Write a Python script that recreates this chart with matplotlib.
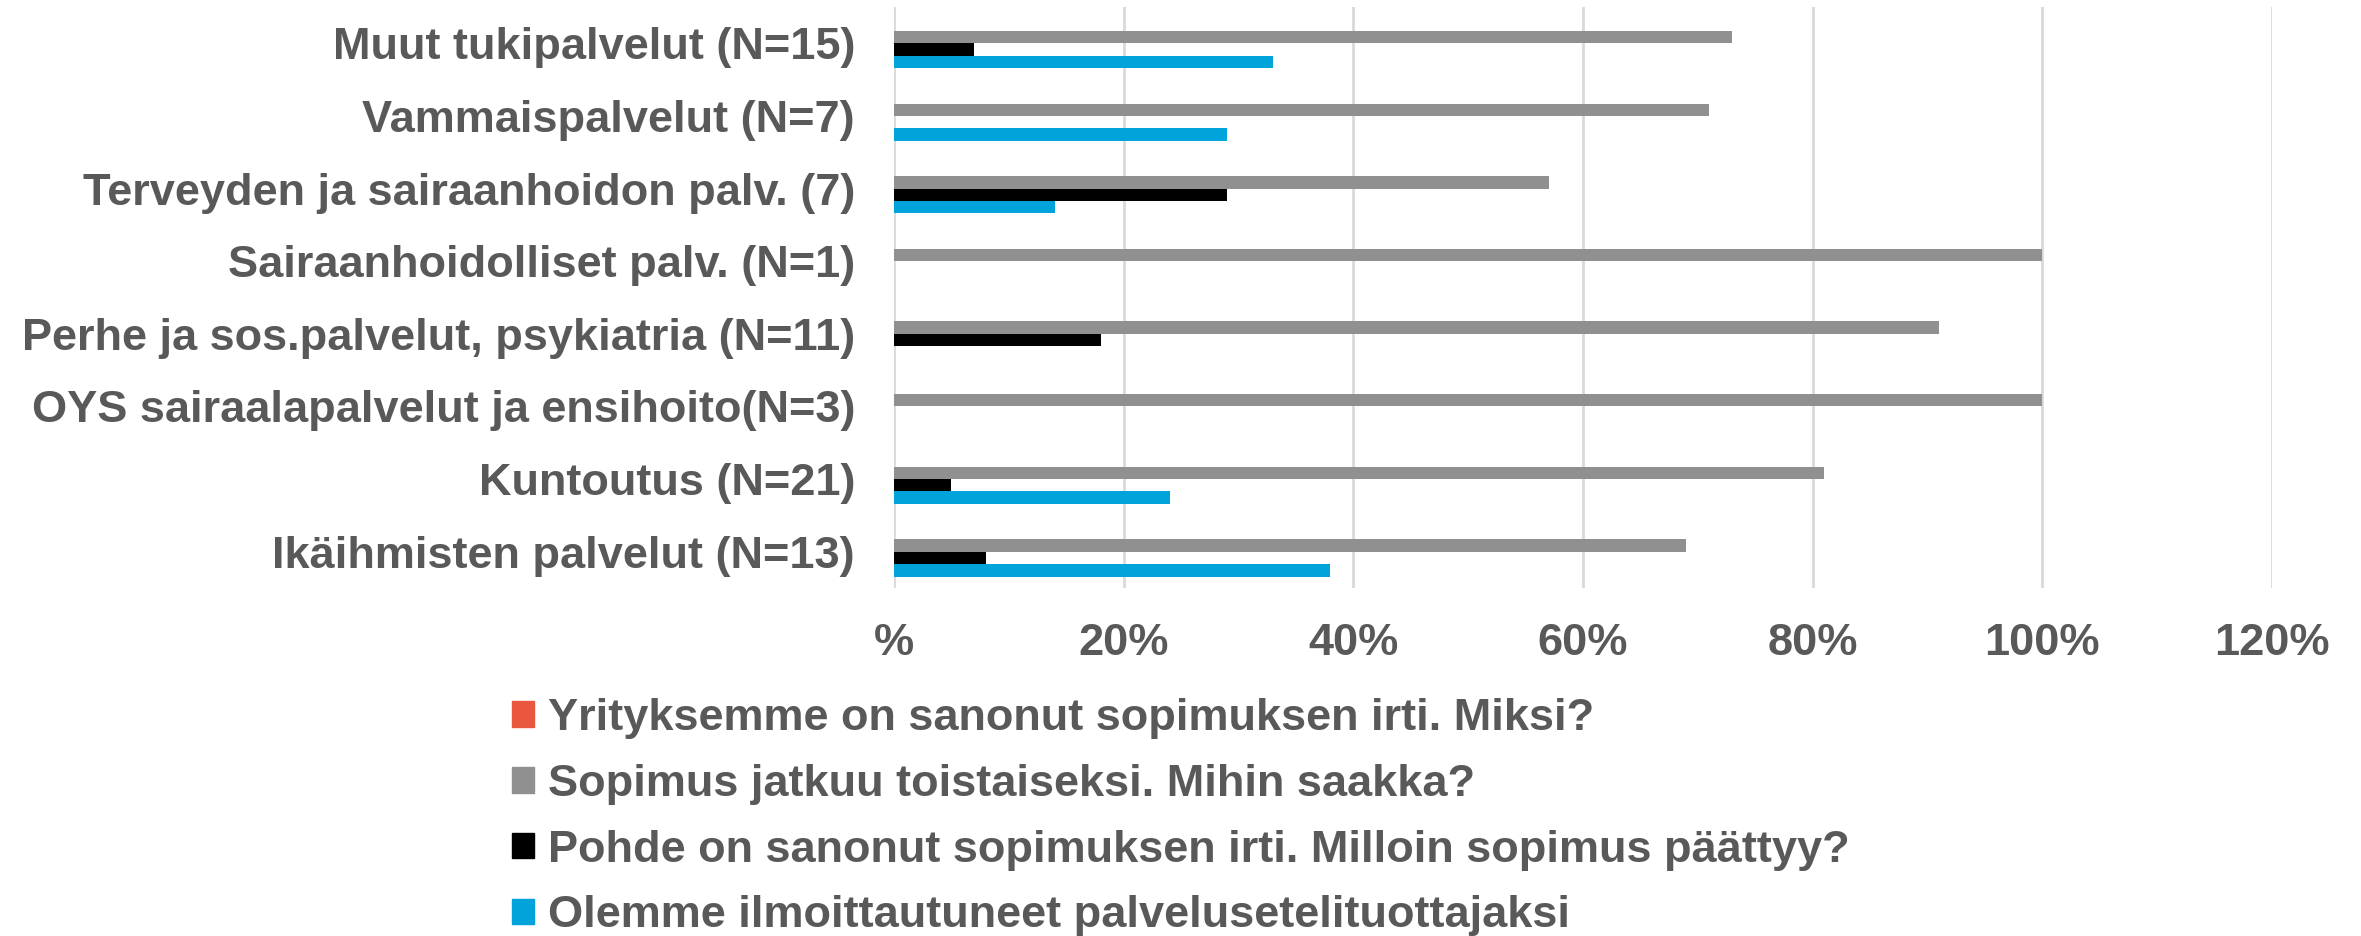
import matplotlib
matplotlib.use('Agg')
import matplotlib.pyplot as plt
from matplotlib.patches import Patch
import numpy as np

plt.rcParams['font.family'] = ['Liberation Sans', 'DejaVu Sans']
plt.rcParams['font.weight'] = 'bold'

# kategoriat alhaalta ylös
kategoriat = [
    'Ikäihmisten palvelut (N=13)',
    'Kuntoutus (N=21)',
    'OYS sairaalapalvelut ja ensihoito(N=3)',
    'Perhe ja sos.palvelut, psykiatria (N=11)',
    'Sairaanhoidolliset palv. (N=1)',
    'Terveyden ja sairaanhoidon palv. (7)',
    'Vammaispalvelut (N=7)',
    'Muut tukipalvelut (N=15)',
]

# prosentit
yritys_irti = [0, 0, 0, 0, 0, 0, 0, 0]
jatkuu = [69, 81, 100, 91, 100, 57, 71, 73]
pohde_irti = [8, 5, 0, 18, 0, 29, 0, 7]
palveluseteli = [38, 24, 0, 0, 0, 14, 29, 33]

sarjat = [
    'Yrityksemme on sanonut sopimuksen irti. Miksi?',
    'Sopimus jatkuu toistaiseksi. Mihin saakka?',
    'Pohde on sanonut sopimuksen irti. Milloin sopimus päättyy?',
    'Olemme ilmoittautuneet palvelusetelituottajaksi',
]
x_ticks = [0, 20, 40, 60, 80, 100, 120]
x_labels = ['%', '20%', '40%', '60%', '80%', '100%', '120%']

varit = ['#E9573E', '#909090', '#000000', '#00A3DA']
tekstivari = '#595959'
fs = 32.5

fig = plt.figure(figsize=(23.61, 9.36), dpi=100)
ax = fig.add_axes([894 / 2361, 1 - 588 / 936, (2272 - 894) / 2361, 581 / 936])

y = np.arange(len(kategoriat))
h = 0.171
arvot = [yritys_irti, jatkuu, pohde_irti, palveluseteli]
siirrot = [1.5, 0.5, -0.5, -1.5]
for arvo, s, vari in zip(arvot, siirrot, varit):
    ax.barh(y + s * h, arvo, height=h, color=vari, zorder=3)

ax.set_xlim(0, 120)
ax.set_ylim(-0.5, len(kategoriat) - 0.5)
ax.set_xticks(x_ticks)
ax.set_xticklabels(x_labels)
ax.set_yticks(y)
ax.set_yticklabels(kategoriat)
ax.tick_params(axis='y', length=0, pad=28, labelsize=fs, labelcolor=tekstivari)
ax.tick_params(axis='x', length=0, pad=25, labelsize=fs, labelcolor=tekstivari)
ax.grid(axis='x', color='#D9D9D9', linewidth=2, zorder=0)
for sp in ax.spines.values():
    sp.set_visible(False)

kahvat = [Patch(color=c, label=l) for c, l in zip(varit, sarjat)]
leg = fig.legend(handles=kahvat, loc='upper left', bbox_to_anchor=(512 / 2361, 1 - 698 / 936),
                 frameon=False, fontsize=fs, borderpad=0, borderaxespad=0,
                 handlelength=0.49, handleheight=0.49, handletextpad=0.3, labelspacing=0.55)
for t in leg.get_texts():
    t.set_color(tekstivari)

fig.savefig('out.png', dpi=100)
